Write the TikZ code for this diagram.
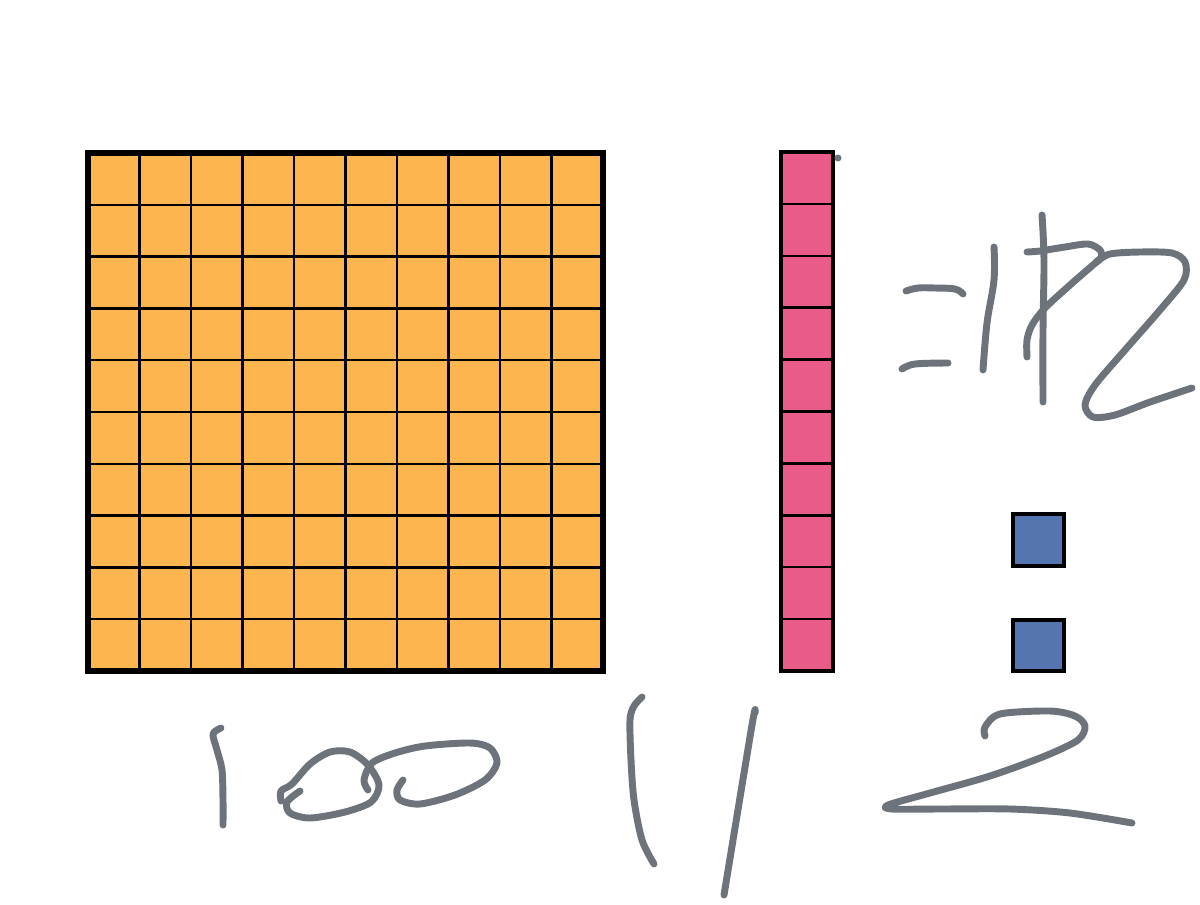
\documentclass[tikz,border=0pt]{standalone}
\usetikzlibrary{calc}
\definecolor{blockorange}{HTML}{FDB54F}
\definecolor{rodpink}{HTML}{E95C87}
\definecolor{unitblue}{HTML}{5475B0}
\definecolor{ink}{HTML}{6C737A}
\tikzset{
  pen/.style={draw=ink, line width=5.2pt, line cap=round, line join=round},
  gridline/.style={draw=black, line width=1.9pt},
  outer/.style={draw=black, line width=3.8pt},
}
\begin{document}
\begin{tikzpicture}[x=0.75pt,y=-0.75pt]
\useasboundingbox (0,0) rectangle (1200,904);
% hundred square
\fill[blockorange] (88,153) rectangle (603,671);
\foreach \i in {1,...,9} {
  \draw[gridline] ({88+\i*51.5},153) -- ({88+\i*51.5},671);
  \draw[gridline] (88,{153+\i*51.8}) -- (603,{153+\i*51.8});
}
\draw[outer] (88,153) rectangle (603,671);
% ten rod
\fill[rodpink] (781,152) rectangle (833,671);
\foreach \i in {1,...,9} {
  \draw[gridline] (781,{152+\i*51.9}) -- (833,{152+\i*51.9});
}
\draw[draw=black, line width=3pt] (781,152) rectangle (833,671);
\fill[ink] (838,158) circle (3.5);
% units
\draw[draw=black, line width=2.6pt, fill=unitblue] (1013,514) rectangle (1064,566);
\draw[draw=black, line width=2.6pt, fill=unitblue] (1013,620) rectangle (1064,671);
% handwriting "=112"
\draw[pen] plot[smooth, tension=0.6] coordinates {(906,291) (918,288) (935,288) (955,289) (963,294)};
\draw[pen] plot[smooth, tension=0.6] coordinates {(902,369) (915,364) (948,363)};
\draw[pen] plot[smooth, tension=0.6] coordinates {(994,247) (994,280) (987,323) (983,370)};
\draw[pen] plot[smooth, tension=0.6] coordinates {(1042,215) (1044,260) (1043,330) (1043,402)};
\draw[pen] plot[smooth, tension=0.5] coordinates {(1027,252) (1040,251) (1065,247) (1088,244) (1100,250) (1101,258) (1093,265) (1070,285) (1045,308) (1032,325) (1027,340) (1027,357)};
\draw[pen] plot[smooth, tension=0.5] coordinates {(1096,262) (1110,254) (1140,252) (1172,253) (1185,262) (1184,280) (1160,310) (1125,350) (1095,385) (1085,405) (1093,417) (1115,415) (1150,402) (1192,388)};
% "100"
\draw[pen] plot[smooth, tension=0.5] coordinates {(221,728) (213,734) (217,750) (222,770) (223,800) (223,825)};
\draw[pen] plot[smooth, tension=0.5] coordinates {(281,801) (281,791) (292,784) (310,764) (330,752) (350,752) (368,765) (379,785) (371,802) (345,812) (310,818) (290,813) (287,802) (300,791)};
\draw[pen] plot[smooth, tension=0.5] coordinates {(368,790) (364,780) (372,763) (395,753) (425,746) (470,743) (490,748) (497,763) (485,780) (455,795) (420,804) (400,800) (397,790) (403,780)};
% "11"
\draw[pen] plot[smooth, tension=0.5] coordinates {(642,697) (634,706) (630,720) (631,760) (634,800) (642,840) (654,864)};
\draw[pen] plot[smooth, tension=0.5] coordinates {(755,713) (752,725) (724,895)};
% "2"
\draw[pen] plot[smooth, tension=0.5] coordinates {(985,736) (985,727) (1000,714) (1050,711) (1075,716) (1085,726) (1078,740) (1045,756) (990,776) (930,793) (888,805) (892,809) (940,809) (1010,809) (1070,813) (1132,823)};
\end{tikzpicture}
\end{document}
